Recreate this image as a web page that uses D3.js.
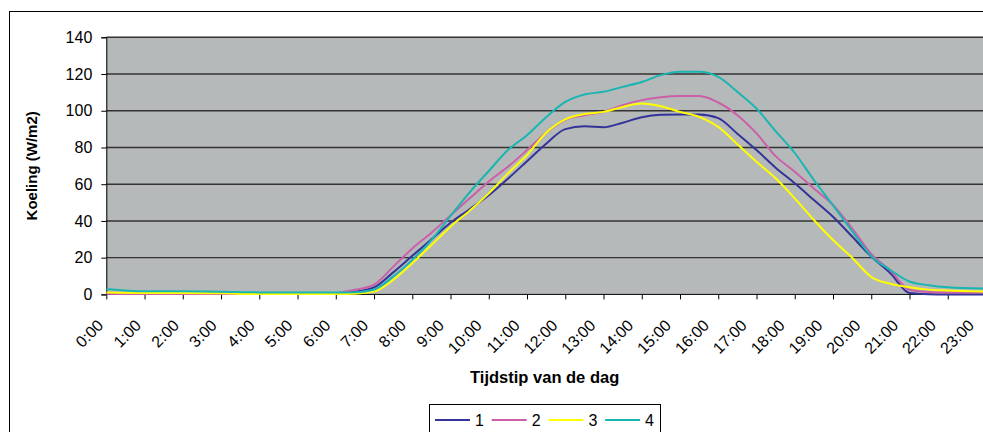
<!DOCTYPE html>
<html>
<head>
<meta charset="utf-8">
<script src="https://cdn.jsdelivr.net/npm/d3@7"></script>
<style>
  body { margin: 0; background: #fff; }
  svg { display: block; }
  text { font-family: Arial, "Liberation Sans", sans-serif; fill: #000; }
</style>
</head>
<body>
<div id="chart"></div>
<script>
// time of day in hours, readings
const hours = [0, 1, 2, 3, 4, 5, 6, 6.5, 7, 7.5, 8, 8.5, 9, 9.5, 10, 10.5, 11, 11.5, 12, 12.5,
  13, 13.5, 14, 14.5, 15, 15.5, 16, 16.5, 17, 17.5, 18, 18.5, 19, 19.5, 20, 20.5, 21, 21.5, 22, 23];
const series1 = [0.3, 0.3, 0.3, 0.3, 0.5, 0.5, 0.7, 1.5, 3.8, 12, 21, 30, 39, 46.4, 54, 63, 72.5, 82, 90, 91.5,
  91, 93.5, 96.5, 97.8, 98, 98, 96, 87.5, 78.6, 69, 60.5, 51.4, 42.3, 31.5, 20.6, 11.5, 0.8, 0.1, 0, 0];
const series2 = [0.3, 0.2, 0.2, 0.2, 0.4, 0.5, 0.8, 2.5, 5.3, 15, 25, 33.6, 43, 52.3, 61.5, 69.5, 78.6, 88, 95, 97.6,
  99.4, 103, 105.8, 107.4, 108, 108, 104.5, 97.6, 87.7, 75.3, 66.8, 57.7, 48.7, 36, 22, 13, 2.5, 1.3, 1, 1];
const series3 = [1, 0.8, 0.8, 0.6, 0.2, 0.2, 0.2, 0.4, 1.5, 7.9, 17, 26.9, 36.9, 45.6, 55, 65.9, 75.9, 88, 95.3, 98.2,
  99.4, 102.1, 104, 102.5, 99.4, 96.7, 91.2, 81.8, 72.2, 63.2, 52.3, 40.5, 29.6, 20, 9.5, 5.8, 3.9, 2.6, 2.1, 1.6];
const series4 = [3, 1.7, 1.7, 1.5, 1.1, 1.1, 1, 1.2, 2.7, 9.7, 18.8, 29.6, 42.7, 55.6, 67.2, 78.6, 86.7, 96.5, 104.8, 108.9,
  110.3, 113, 115.7, 119.4, 121.2, 121.2, 118.4, 110.3, 101.2, 88.9, 77, 62.3, 48.5, 34.5, 20.8, 13.3, 7, 5, 3.9, 3.2];
const seriesNames = ["1", "2", "3", "4"];
const seriesColors = ["#333399", "#cc5fa8", "#ffff00", "#19b5b2"];
const tickLabels = ["0:00", "1:00", "2:00", "3:00", "4:00", "5:00", "6:00", "7:00", "8:00", "9:00", "10:00", "11:00",
  "12:00", "13:00", "14:00", "15:00", "16:00", "17:00", "18:00", "19:00", "20:00", "21:00", "22:00", "23:00"];
const yTicks = [0, 20, 40, 60, 80, 100, 120, 140];

const width = 983, height = 432;
const plot = { left: 106.3, top: 37.3, right: 986, bottom: 294.4 };

const x = d3.scaleLinear().domain([0, 23]).range([plot.left, plot.right]);
const y = d3.scaleLinear().domain([0, 140]).range([plot.bottom, plot.top]);
// labels in the original run a little tighter than the ticks
const xLabel = d3.scaleLinear().domain([0, 23]).range([plot.left + 1, 978]);

const svg = d3.select("#chart").append("svg")
  .attr("width", width)
  .attr("height", height);

svg.append("rect")
  .attr("width", width).attr("height", height)
  .attr("fill", "#fff");

// chart frame (right and bottom fall outside the picture)
svg.append("rect")
  .attr("x", 9.5).attr("y", 11.5)
  .attr("width", 1000).attr("height", 460)
  .attr("fill", "none")
  .attr("stroke", "#000");

svg.append("clipPath").attr("id", "plotClip")
  .append("rect")
  .attr("x", plot.left).attr("y", plot.top - 2)
  .attr("width", width - plot.left).attr("height", plot.bottom - plot.top + 4);

svg.append("rect")
  .attr("x", plot.left).attr("y", plot.top)
  .attr("width", width - plot.left)
  .attr("height", plot.bottom - plot.top)
  .attr("fill", "#b5b9b9");

// gridlines
svg.selectAll("line.grid")
  .data(yTicks.filter(d => d > 0))
  .enter().append("line")
  .attr("class", "grid")
  .attr("x1", plot.left).attr("x2", width)
  .attr("y1", d => y(d)).attr("y2", d => y(d))
  .attr("stroke", "#333")
  .attr("stroke-width", 1.4);

// y axis
const yAxis = svg.append("g")
  .attr("transform", `translate(${plot.left},0)`)
  .call(d3.axisLeft(y).tickValues(yTicks).tickSize(5).tickPadding(9));
yAxis.select(".domain").attr("stroke", "#000");
yAxis.selectAll(".tick line").attr("stroke", "#000");
yAxis.selectAll(".tick text")
  .style("font-family", "Arial, 'Liberation Sans', sans-serif")
  .style("font-size", "16px")
  .attr("fill", "#000");

// x axis
const xAxis = svg.append("g")
  .attr("transform", `translate(0,${plot.bottom})`)
  .call(d3.axisBottom(x).tickValues(d3.range(0, 24)).tickSize(5).tickFormat(""));
xAxis.select(".domain").attr("d", `M${plot.left},0H${width}`).attr("stroke", "#000");
xAxis.selectAll(".tick line").attr("stroke", "#000");

svg.selectAll("text.xlabel")
  .data(tickLabels)
  .enter().append("text")
  .attr("class", "xlabel")
  .attr("text-anchor", "end")
  .style("font-size", "16px")
  .attr("transform", (d, i) => `translate(${xLabel(i) - 3},${plot.bottom + 32}) rotate(-45)`)
  .text(d => d);

// lines
const allSeries = [series1, series2, series3, series4];
const line = d3.line()
  .x((d, i) => x(hours[i]))
  .y(d => y(d))
  .curve(d3.curveMonotoneX);

svg.append("g")
  .attr("clip-path", "url(#plotClip)")
  .selectAll("path.series")
  .data(allSeries)
  .enter().append("path")
  .attr("class", "series")
  .attr("d", d => line(d))
  .attr("fill", "none")
  .attr("stroke", (d, i) => seriesColors[i])
  .attr("stroke-width", 2);

// axis titles
svg.append("text")
  .attr("text-anchor", "middle")
  .attr("transform", `translate(37,${(plot.top + plot.bottom) / 2}) rotate(-90)`)
  .style("font-size", "15px")
  .style("font-weight", "bold")
  .text("Koeling (W/m2)");

svg.append("text")
  .attr("x", (plot.left + width) / 2)
  .attr("y", 383)
  .attr("text-anchor", "middle")
  .style("font-size", "16.5px")
  .style("font-weight", "bold")
  .text("Tijdstip van de dag");

// legend
const legend = svg.append("g").attr("transform", "translate(429.5,404.5)");
legend.append("rect")
  .attr("width", 231).attr("height", 40)
  .attr("fill", "#fff")
  .attr("stroke", "#000");
const item = legend.selectAll("g.item")
  .data(seriesNames)
  .enter().append("g")
  .attr("class", "item")
  .attr("transform", (d, i) => `translate(${5.5 + i * 56.7},15.5)`);
item.append("line")
  .attr("x1", 0).attr("x2", 35)
  .attr("stroke", (d, i) => seriesColors[i])
  .attr("stroke-width", 2);
item.append("text")
  .attr("x", 40).attr("y", 6)
  .style("font-size", "16px")
  .text(d => d);
</script>
</body>
</html>
